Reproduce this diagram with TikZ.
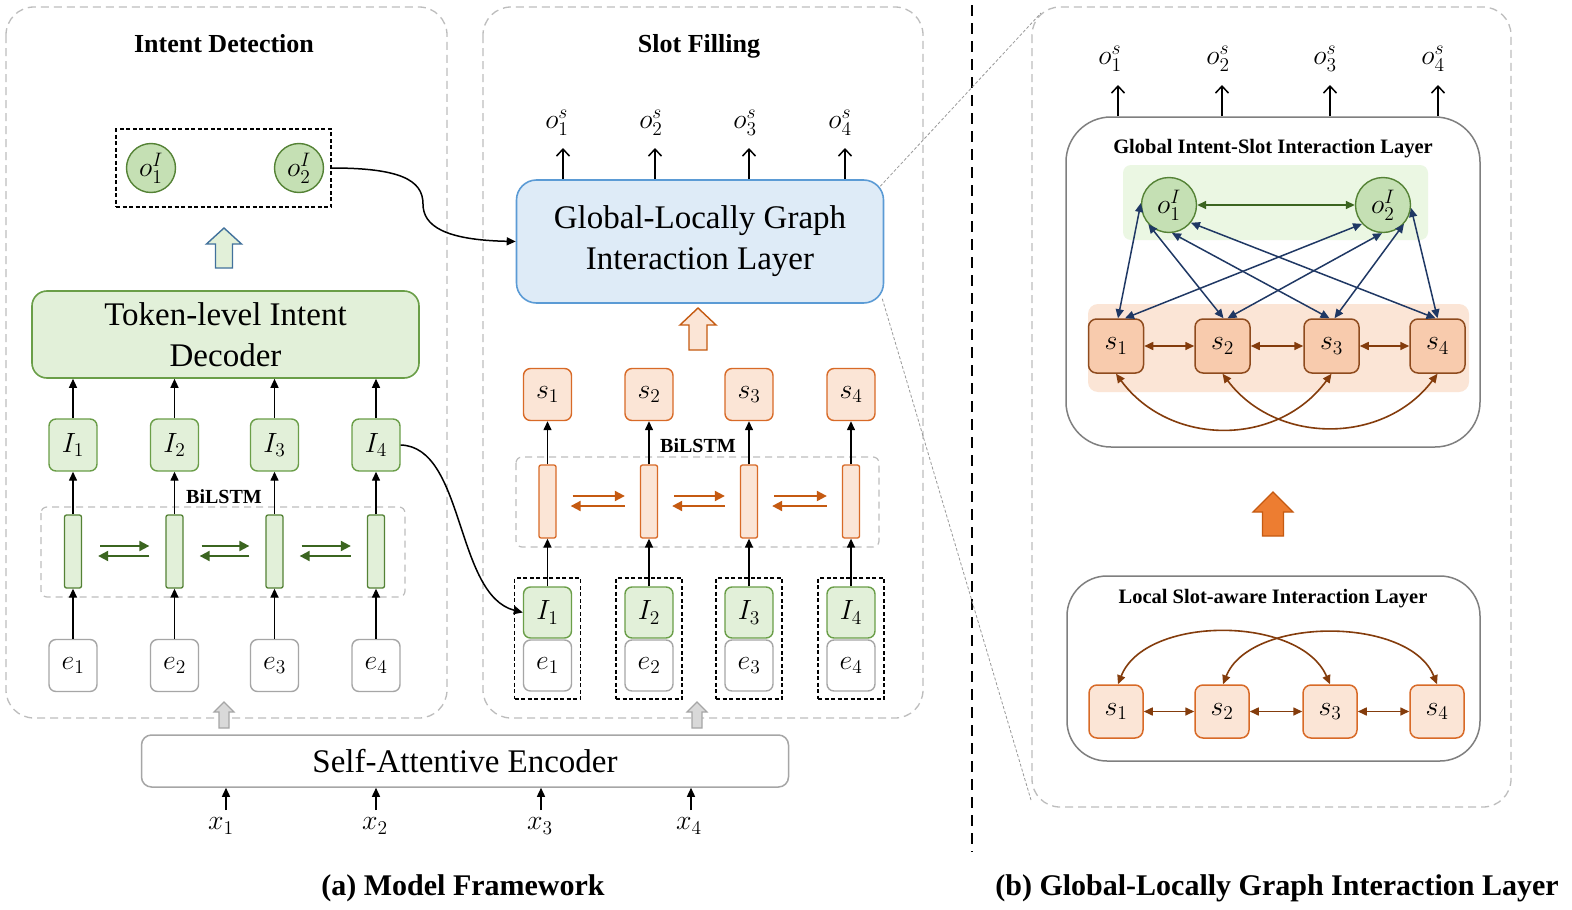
\RequirePackage{fix-cm}
\documentclass[tikz,border=0pt]{standalone}
\usepackage{graphicx}
\usepackage{fontspec}
\setmainfont{Liberation Serif}
\usetikzlibrary{arrows.meta,calc}
\newcommand\mlab[1]{\scalebox{1.16}{$#1$}}
\definecolor{gfill}{HTML}{E2F0D9}
\definecolor{gdraw}{HTML}{6A9E48}
\definecolor{cfill}{HTML}{C5E0B4}
\definecolor{cdraw}{HTML}{548235}
\definecolor{garrow}{HTML}{3B6520}
\definecolor{ofill}{HTML}{FBE5D6}
\definecolor{odraw}{HTML}{D86A27}
\definecolor{oarrow}{HTML}{C55A11}
\definecolor{bfill}{HTML}{DEEBF7}
\definecolor{bdraw}{HTML}{5B9BD5}
\definecolor{sfill}{HTML}{F8CBAD}
\definecolor{sdraw}{HTML}{8E4B1E}
\definecolor{brownarr}{HTML}{843C0C}
\definecolor{navyarr}{HTML}{1F3864}
\definecolor{gband}{HTML}{EBF7E3}
\definecolor{boxgray}{HTML}{A6A6A6}
\definecolor{panelgray}{HTML}{BDBDBD}
\definecolor{layergray}{HTML}{7F7F7F}
\definecolor{hollowblue}{HTML}{41719C}
\definecolor{solidorange}{HTML}{ED7D31}
\newcommand\blkarrow[7]{%
  \draw[#1] ({#2-#6},#4) -- ({#2-#6},{#3+#7}) -- ({#2-#5},{#3+#7}) -- (#2,#3)
  -- ({#2+#5},{#3+#7}) -- ({#2+#6},{#3+#7}) -- ({#2+#6},#4) -- cycle;}
\tikzset{
  panel/.style={draw=panelgray, line width=1.3pt, dash pattern=on 8pt off 5pt, rounded corners=28pt},
  dbox/.style={draw=black, line width=1.4pt, dash pattern=on 4pt off 2.5pt, inner sep=0},
  lstmbox/.style={draw=panelgray, line width=1.2pt, dash pattern=on 7pt off 5pt, rounded corners=6pt},
  ttl/.style={font=\bfseries\fontsize{26}{30}\selectfont, inner sep=0, anchor=base},
  bil/.style={font=\bfseries\fontsize{20}{24}\selectfont, inner sep=0, anchor=base},
  ltitle/.style={font=\bfseries\fontsize{20.5}{24}\selectfont, inner sep=0, anchor=base},
  captxt/.style={font=\bfseries\fontsize{30}{34}\selectfont, inner sep=0, anchor=base},
  bigbox/.style={font=\fontsize{33}{41}\selectfont, align=center, inner sep=0},
  olab/.style={font=\fontsize{24}{28}\selectfont, inner sep=0},
  circ/.style={circle, fill=cfill, draw=cdraw, line width=1.4pt, inner sep=0, font=\fontsize{24}{28}\selectfont},
  ibx/.style={rectangle, rounded corners=7pt, fill=gfill, draw=gdraw, line width=1.4pt, minimum width=48pt, minimum height=52pt, inner sep=0, font=\fontsize{24}{28}\selectfont},
  ebx/.style={rectangle, rounded corners=7pt, fill=white, draw=boxgray, line width=1.4pt, minimum width=48pt, minimum height=52pt, inner sep=0, font=\fontsize{24}{28}\selectfont},
  sbx/.style={rectangle, rounded corners=7pt, fill=ofill, draw=odraw, line width=1.4pt, minimum width=48pt, minimum height=52pt, inner sep=0, font=\fontsize{24}{28}\selectfont},
  gsbx/.style={rectangle, rounded corners=8pt, fill=sfill, draw=sdraw, line width=1.5pt, minimum width=55pt, minimum height=54pt, inner sep=0, font=\fontsize{24}{28}\selectfont},
  lsbx/.style={rectangle, rounded corners=8pt, fill=ofill, draw=odraw, line width=1.5pt, minimum width=54pt, minimum height=53pt, inner sep=0, font=\fontsize{24}{28}\selectfont},
  gcell/.style={rectangle, rounded corners=2pt, fill=gfill, draw=cdraw, line width=1.3pt, minimum width=17pt, minimum height=73pt, inner sep=0},
  ocell/.style={rectangle, rounded corners=2pt, fill=ofill, draw=odraw, line width=1.3pt, minimum width=17pt, minimum height=73pt, inner sep=0},
  arr/.style={draw=black, line width=1.4pt, -{Triangle[length=9pt,width=8pt]}},
  openarr/.style={draw=black, line width=1.5pt, -{Straight Barb[length=7pt,width=13pt,line width=1.5pt]}},
  garr/.style={draw=garrow, line width=2pt, -{Triangle[length=10pt,width=10pt]}},
  oarr/.style={draw=oarrow, line width=2pt, -{Triangle[length=10pt,width=10pt]}},
  narr/.style={draw=navyarr, line width=1.5pt, {Triangle[length=9pt,width=8pt]}-{Triangle[length=9pt,width=8pt]}},
  brarr/.style={draw=brownarr, line width=1.6pt, {Triangle[length=9pt,width=8pt]}-{Triangle[length=9pt,width=8pt]}},
  dgarr/.style={draw=garrow, line width=1.6pt, {Triangle[length=9pt,width=8pt]}-{Triangle[length=9pt,width=8pt]}},
  zline/.style={draw=gray!80, line width=0.8pt, dash pattern=on 3pt off 2pt},
  layer/.style={rectangle, draw=layergray, line width=1.5pt, fill=white, inner sep=0},
}
\begin{document}
\begin{tikzpicture}[x=1pt,y=-1pt]
\useasboundingbox (0,0) rectangle (1572,910);
\fill[white] (0,0) rectangle (1572,910);

% ---------- panels ----------
\draw[panel] (6,7) rectangle (447,718);
\draw[panel] (483,7) rectangle (923,718);
\draw[panel] (1032,7) rectangle (1511,807);
\node[ttl] (tID) at (224,52) {Intent Detection};
\node[ttl] (tSF) at (699,52) {Slot Filling};

% ---------- left: intent detection ----------
\node[dbox, minimum width=215pt, minimum height=78pt] (ibox) at (223.5,168) {};
\node[circ, minimum size=49pt] (o1) at (151,168) {\mlab{o_1^I}};
\node[circ, minimum size=49pt] (o2) at (299,168) {\mlab{o_2^I}};
\blkarrow{fill=gfill, draw=hollowblue, line width=1.4pt}{224}{228}{268}{17.5}{8.5}{16}
\node[bigbox, rectangle, rounded corners=15pt, fill=gfill, draw=gdraw, line width=1.6pt,
      minimum width=387pt, minimum height=87pt] (dec) at (225.5,334.5) {Token-level Intent\\Decoder};

\draw[lstmbox] (41,507) rectangle (405,597);
\node[bil] (bil1) at (224,503) {BiLSTM};
\foreach \i/\x in {1/73,2/174.5,3/274.5,4/376}{
  \node[ibx] (I\i) at (\x,445) {\mlab{I_{\i}}};
  \node[gcell] (c\i) at (\x,551.5) {};
  \node[ebx] (e\i) at (\x,665.5) {\mlab{e_{\i}}};
  \draw[arr] (e\i.north) -- (c\i.south);
  \draw[arr] (c\i.north) -- (I\i.south);
  \draw[arr] (I\i.north) -- (I\i.north |- dec.south);
}
\foreach \i/\j in {1/2,2/3,3/4}{
  \draw[garr] ($(c\i.east)+(18,-5.5)$) -- ($(c\j.west)+(-16,-5.5)$);
  \draw[garr] ($(c\j.west)+(-16,4.5)$) -- ($(c\i.east)+(16,4.5)$);
}

% ---------- encoder ----------
\blkarrow{fill=gray!30, draw=boxgray, line width=1.2pt}{224}{702}{728}{10}{5}{10}
\blkarrow{fill=gray!30, draw=boxgray, line width=1.2pt}{697}{702}{728}{10}{5}{10}
\node[bigbox, rectangle, rounded corners=10pt, draw=boxgray, line width=1.5pt, fill=white,
      minimum width=647pt, minimum height=52pt] (enc) at (465,761) {Self-Attentive Encoder};
\foreach \i/\x/\ax in {1/221/226,2/375/376,3/540/541,4/689/691}{
  \node[olab] (x\i) at (\x,826) {\mlab{x_{\i}}};
  \coordinate (xa\i) at (\ax,810);
  \draw[arr] (xa\i) -- (xa\i |- enc.south);
}

% ---------- middle: slot filling ----------
\node[bigbox, rectangle, rounded corners=20pt, fill=bfill, draw=bdraw, line width=1.6pt,
      minimum width=367pt, minimum height=123pt] (GL) at (700,241.5) {Global-Locally Graph\\Interaction Layer};
\foreach \i/\x/\ax in {1/557/563,2/651/655,3/745/749,4/840/845}{
  \node[olab] (os\i) at (\x,123) {\mlab{o_{\i}^s}};
  \coordinate (osa\i) at (\ax,148);
  \draw[openarr] (osa\i |- GL.north) -- (osa\i);
}
\blkarrow{fill=ofill, draw=oarrow, line width=1.4pt}{698}{308}{350}{18}{9}{17}

\draw[lstmbox] (516,457) rectangle (879,547);
\node[bil] (bil2) at (698,452) {BiLSTM};
\foreach \i/\x in {1/547.5,2/649,3/749,4/851}{
  \node[sbx] (s\i) at (\x,394.5) {\mlab{s_{\i}}};
  \node[ocell] (m\i) at (\x,501.5) {};
  \node[dbox, minimum width=66pt, minimum height=121pt] (st\i) at (\x,638.5) {};
  \node[ibx, minimum height=51pt] (Im\i) at (\x,612.5) {\mlab{I_{\i}}};
  \node[ebx, minimum height=51pt] (em\i) at (\x,665.5) {\mlab{e_{\i}}};
  \draw[arr] (Im\i.north) -- (m\i.south);
  \draw[arr] (m\i.north) -- (s\i.south);
}
\foreach \i/\j in {1/2,2/3,3/4}{
  \draw[oarr] ($(m\i.east)+(16,-5.5)$) -- ($(m\j.west)+(-15,-5.5)$);
  \draw[oarr] ($(m\j.west)+(-15,4.5)$) -- ($(m\i.east)+(14,4.5)$);
}

% ---------- cross connectors ----------
\draw[arr, line width=1.5pt] (ibox.east) .. controls (400,168) and (423,180) .. (423,204)
      .. controls (423,226) and (445,240) .. (GL.west);
\draw[arr, line width=1.5pt] (I4.east) .. controls (465,447) and (455,595) .. (Im1.west);

% ---------- separator and zoom lines ----------
\draw[draw=black, line width=2pt, dash pattern=on 11pt off 7pt] (972,5) -- (972,852);
\coordinate (zA) at (1041,13);
\coordinate (zB) at (1031,800);
\draw[zline] ($(GL.north east)+(-4,7)$) -- (zA);
\draw[zline] ($(GL.south east)+(-2,-5)$) -- (zB);

% ---------- right: global layer ----------
\node[layer, rounded corners=45pt, minimum width=414pt, minimum height=330pt] (GG) at (1273,282) {};
\node[ltitle] (tGG) at (1273,153) {Global Intent-Slot Interaction Layer};
\foreach \i/\x/\ax in {1/1110/1118,2/1218/1222,3/1325/1330,4/1433/1438}{
  \node[olab] (og\i) at (\x,59) {\mlab{o_{\i}^s}};
  \coordinate (oga\i) at (\ax,85);
  \draw[openarr] (oga\i |- GG.north) -- (oga\i);
}
\node[rectangle, rounded corners=8pt, fill=gband, minimum width=305pt, minimum height=75pt] (GB) at (1275.5,202.5) {};
\node[rectangle, rounded corners=10pt, fill=ofill, minimum width=381pt, minimum height=88pt] (OB) at (1278.5,348) {};
\node[circ, minimum size=55pt] (o1g) at (1169,205) {\mlab{o_1^I}};
\node[circ, minimum size=55pt] (o2g) at (1383,205) {\mlab{o_2^I}};
\draw[dgarr] (o1g.east) -- (o2g.west);
\foreach \i/\x in {1/1116,2/1222.5,3/1331.5,4/1437.5}{
  \node[gsbx] (sg\i) at (\x,346) {\mlab{s_{\i}}};
}
\foreach \i/\j in {1/2,2/3,3/4}{ \draw[brarr] (sg\i.east) -- (sg\j.west); }
\draw[narr] (o1g.176) -- ([xshift=2pt]sg1.north);
\draw[narr] (o1g.223) -- ([xshift=1pt]sg2.north);
\draw[narr] (o1g.276) -- ([xshift=-2pt]sg3.north);
\draw[narr] (o1g.321) -- ([xshift=-2pt]sg4.north);
\draw[narr] (o2g.222) -- ([xshift=9pt]sg1.north);
\draw[narr] (o2g.268) -- ([xshift=5pt]sg2.north);
\draw[narr] (o2g.318) -- ([xshift=3pt]sg3.north);
\draw[narr] (o2g.354) -- (sg4.north);
\draw[brarr] (sg1.south) .. controls (1170,447) and (1278,447) .. (sg3.south);
\draw[brarr] (sg2.south) .. controls (1276,445) and (1384,445) .. (sg4.south);

\blkarrow{fill=solidorange, draw=oarrow, line width=1.2pt}{1273}{492}{536}{20}{10.5}{20}

% ---------- right: local layer ----------
\node[layer, rounded corners=40pt, minimum width=413pt, minimum height=185pt] (LB) at (1273.5,668.5) {};
\node[ltitle] (tLB) at (1273,603) {Local Slot-aware Interaction Layer};
\foreach \i/\x in {1/1116,2/1222,3/1330,4/1437}{
  \node[lsbx] (sl\i) at (\x,711.5) {\mlab{s_{\i}}};
}
\foreach \i/\j in {1/2,2/3,3/4}{ \draw[brarr] (sl\i.east) -- (sl\j.west); }
\draw[brarr] ([xshift=2pt]sl1.north) .. controls (1145,615) and (1300,615) .. (sl3.north);
\draw[brarr] ([xshift=1pt]sl2.north) .. controls (1250,616) and (1410,616) .. (sl4.north);

% ---------- captions ----------
\node[captxt] (capa) at (463,895) {(a) Model Framework};
\node[captxt] (capb) at (1277,895) {(b) Global-Locally Graph Interaction Layer};
\end{tikzpicture}
\end{document}
